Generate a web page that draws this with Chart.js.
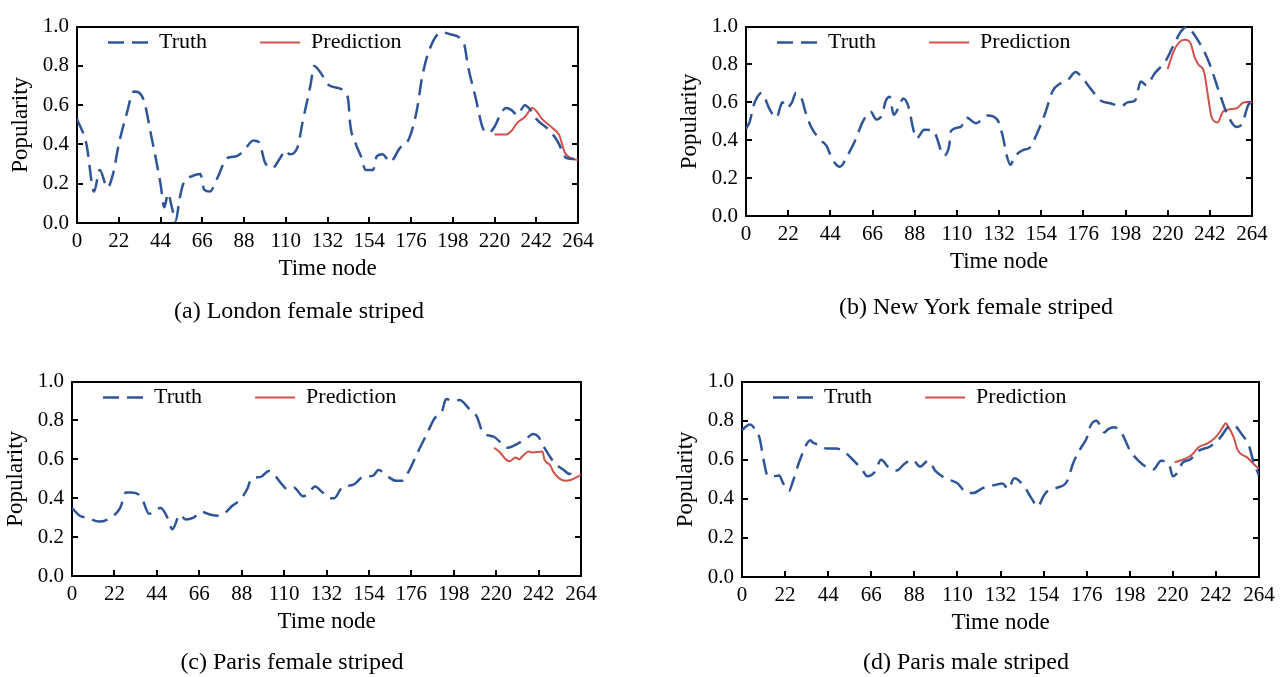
<!DOCTYPE html>
<html>
<head>
<meta charset="utf-8">
<script src="https://cdn.jsdelivr.net/npm/chart.js@4.4.1/dist/chart.umd.min.js"></script>
<style>
  html, body { margin: 0; padding: 0; background: #fff; }
  body { width: 1287px; height: 677px; position: relative; overflow: hidden; font-family: "Liberation Serif", serif; }
  canvas { position: absolute; }
  .caption { position: absolute; font-size: 24px; line-height: 1; color: #000; white-space: nowrap; transform: translateX(-50%); }
</style>
</head>
<body>
<canvas id="londonChart" width="640" height="300" style="left:0px;top:0px"></canvas>
<canvas id="newYorkChart" width="644" height="300" style="left:643px;top:0px"></canvas>
<canvas id="parisFemaleChart" width="640" height="300" style="left:0px;top:355px"></canvas>
<canvas id="parisMaleChart" width="644" height="300" style="left:643px;top:355px"></canvas>
<div class="caption" style="left:299px;top:298px">(a) London female striped</div>
<div class="caption" style="left:976px;top:294px">(b) New York female striped</div>
<div class="caption" style="left:292px;top:649px">(c) Paris female striped</div>
<div class="caption" style="left:966px;top:649px">(d) Paris male striped</div>
<script>
// ---- data (time node, popularity) ----
const londonNodes = [0, 5, 9, 12, 16, 19, 22, 26, 30, 35, 39, 44, 46, 48, 50, 52, 54, 56, 61, 65, 67, 70, 74, 79, 84, 88, 93, 96, 99, 103, 107, 110, 112, 116, 119, 123, 125, 128, 133, 141, 143, 144, 147, 150, 152, 156, 158, 161, 165, 170, 175, 179, 182, 186, 192, 197, 204, 206, 210, 214, 217, 220, 223, 226, 229, 232, 236, 239, 242, 248, 253, 258, 262];
const londonTruth = [0.53, 0.40, 0.16, 0.27, 0.18, 0.25, 0.40, 0.55, 0.67, 0.63, 0.45, 0.20, 0.08, 0.15, 0.08, 0.01, 0.12, 0.20, 0.24, 0.25, 0.17, 0.16, 0.23, 0.33, 0.34, 0.37, 0.42, 0.41, 0.31, 0.28, 0.33, 0.37, 0.35, 0.38, 0.52, 0.70, 0.80, 0.77, 0.70, 0.67, 0.62, 0.50, 0.40, 0.33, 0.27, 0.27, 0.34, 0.35, 0.31, 0.38, 0.43, 0.57, 0.75, 0.89, 0.97, 0.96, 0.91, 0.80, 0.64, 0.48, 0.46, 0.49, 0.55, 0.585, 0.575, 0.55, 0.60, 0.575, 0.53, 0.48, 0.42, 0.33, 0.325];
const londonPredNodes = [220, 226, 229, 232, 236, 240, 242, 245, 251, 254, 257, 262, 264];
const londonPred = [0.45, 0.45, 0.47, 0.51, 0.54, 0.585, 0.57, 0.53, 0.48, 0.45, 0.36, 0.325, 0.32];

const newYorkNodes = [0, 2, 4, 6, 8, 10, 12, 16, 18, 19, 21, 24, 26, 29, 31, 34, 39, 42, 45, 49, 53, 57, 61, 65, 68, 71, 73, 75, 77, 80, 82, 85, 87, 89, 93, 98, 100, 103, 106, 107, 112, 115, 120, 126, 131, 134, 136, 138, 140, 145, 148, 152, 156, 160, 164, 168, 172, 175, 180, 185, 190, 196, 199, 203, 206, 209, 213, 219, 223, 227, 230, 233, 239, 242, 247, 251, 256, 259, 262, 264];
const newYorkTruth = [0.46, 0.50, 0.585, 0.63, 0.65, 0.62, 0.57, 0.52, 0.58, 0.60, 0.57, 0.60, 0.65, 0.62, 0.55, 0.47, 0.40, 0.37, 0.30, 0.26, 0.32, 0.40, 0.50, 0.55, 0.51, 0.535, 0.61, 0.63, 0.535, 0.58, 0.62, 0.57, 0.47, 0.41, 0.455, 0.45, 0.40, 0.32, 0.37, 0.45, 0.47, 0.52, 0.49, 0.53, 0.51, 0.42, 0.32, 0.27, 0.31, 0.35, 0.36, 0.44, 0.54, 0.66, 0.70, 0.72, 0.76, 0.735, 0.67, 0.61, 0.595, 0.58, 0.60, 0.61, 0.71, 0.69, 0.75, 0.82, 0.90, 0.975, 1.0, 0.97, 0.87, 0.80, 0.65, 0.54, 0.47, 0.49, 0.585, 0.60];
const newYorkPredNodes = [220, 223, 226, 229, 232, 234, 236, 239, 241, 243, 246, 249, 256, 260, 264];
const newYorkPred = [0.776, 0.867, 0.917, 0.93, 0.91, 0.84, 0.80, 0.76, 0.635, 0.52, 0.494, 0.552, 0.569, 0.60, 0.60];

const parisFemaleNodes = [0, 4, 8, 14, 20, 25, 28, 31, 36, 40, 43, 46, 50, 52, 56, 59, 63, 67, 72, 76, 80, 83, 87, 91, 93, 98, 102, 105, 109, 112, 115, 120, 123, 126, 130, 134, 136, 140, 146, 151, 156, 159, 164, 168, 171, 175, 179, 184, 188, 192, 194, 198, 201, 206, 210, 213, 219, 224, 226, 231, 236, 239, 242, 245, 250, 255, 258, 261];
const parisFemaleTruth = [0.35, 0.31, 0.30, 0.28, 0.30, 0.35, 0.43, 0.43, 0.405, 0.32, 0.34, 0.35, 0.29, 0.24, 0.315, 0.29, 0.30, 0.33, 0.315, 0.31, 0.33, 0.36, 0.39, 0.45, 0.50, 0.51, 0.54, 0.52, 0.47, 0.445, 0.455, 0.41, 0.43, 0.46, 0.43, 0.40, 0.40, 0.455, 0.47, 0.51, 0.515, 0.545, 0.51, 0.49, 0.49, 0.545, 0.63, 0.73, 0.81, 0.85, 0.91, 0.90, 0.905, 0.86, 0.82, 0.74, 0.715, 0.67, 0.66, 0.68, 0.71, 0.73, 0.715, 0.66, 0.585, 0.545, 0.525, 0.55];
const parisFemalePredNodes = [219, 222, 225, 227, 230, 232, 234, 237, 239, 244, 245, 248, 250, 256, 259, 262, 264];
const parisFemalePred = [0.66, 0.635, 0.60, 0.59, 0.61, 0.60, 0.62, 0.64, 0.635, 0.64, 0.60, 0.57, 0.53, 0.49, 0.495, 0.51, 0.52];

const parisMaleNodes = [0, 2, 4, 6, 9, 11, 13, 16, 19, 21, 24, 26, 30, 35, 36, 41, 43, 48, 53, 57, 61, 64, 68, 71, 75, 79, 83, 87, 91, 95, 99, 104, 110, 115, 118, 123, 127, 133, 136, 139, 144, 148, 151, 154, 156, 161, 166, 169, 173, 176, 178, 181, 185, 187, 190, 194, 198, 202, 207, 210, 214, 218, 220, 222, 225, 229, 233, 239, 244, 248, 251, 255, 259, 261, 264];
const parisMaleTruth = [0.75, 0.77, 0.78, 0.765, 0.71, 0.60, 0.52, 0.515, 0.52, 0.48, 0.44, 0.49, 0.61, 0.70, 0.69, 0.67, 0.657, 0.657, 0.635, 0.595, 0.555, 0.515, 0.54, 0.60, 0.56, 0.545, 0.58, 0.60, 0.565, 0.595, 0.54, 0.505, 0.48, 0.43, 0.43, 0.455, 0.465, 0.478, 0.45, 0.505, 0.465, 0.40, 0.36, 0.415, 0.44, 0.457, 0.49, 0.58, 0.66, 0.71, 0.775, 0.80, 0.74, 0.757, 0.766, 0.733, 0.65, 0.60, 0.56, 0.55, 0.595, 0.58, 0.515, 0.53, 0.585, 0.603, 0.645, 0.668, 0.71, 0.765, 0.777, 0.733, 0.668, 0.595, 0.52];
const parisMalePredNodes = [221, 227, 230, 233, 238, 242, 245, 247, 248, 251, 253, 258, 263, 264];
const parisMalePred = [0.587, 0.608, 0.628, 0.663, 0.685, 0.717, 0.758, 0.787, 0.774, 0.717, 0.652, 0.611, 0.562, 0.555];

const seriesNames = ['Truth', 'Prediction'];
const truthColor = '#2f5597';
const predColor = '#d1514b';

Chart.defaults.font.family = '"Liberation Serif", serif';
Chart.defaults.color = '#000';

function toPoints(xs, ys) {
  return xs.map((x, i) => ({ x: x, y: ys[i] }));
}

// legend samples take the dataset's own line style (width, colour, dash)
function lineLegendLabels(chart) {
  const items = Chart.defaults.plugins.legend.labels.generateLabels(chart);
  items.forEach(item => {
    const ds = chart.data.datasets[item.datasetIndex];
    item.strokeStyle = ds.borderColor;
    item.lineWidth = ds.borderWidth;
    item.lineDash = ds.borderDash || [];
  });
  return items;
}

// canvas box [left, top, w, h] and plot area [left, top, right, bottom] in page px
function makePanel(id, box, area, nodes, truth, predNodes, pred) {
  const yAxisW = 70, xAxisH = 60;
  const legendPad = 53;
  const pad = {
    left: area[0] - box[0] - yAxisW,
    top: area[1] - box[1],
    right: box[0] + box[2] - area[2],
    bottom: box[1] + box[3] - area[3] - xAxisH
  };
  const tickGrid = { drawOnChartArea: false, drawTicks: true, tickLength: -6, color: '#000', lineWidth: 2 };
  const border = { display: true, color: '#000', width: 2 };

  new Chart(document.getElementById(id), {
    type: 'line',
    data: {
      datasets: [
        {
          label: seriesNames[0],
          data: toPoints(nodes, truth),
          borderColor: truthColor,
          backgroundColor: truthColor,
          borderWidth: 2.5,
          borderDash: [16, 8],
          pointRadius: 0,
          cubicInterpolationMode: 'monotone'
        },
        {
          label: seriesNames[1],
          data: toPoints(predNodes, pred),
          borderColor: predColor,
          backgroundColor: predColor,
          borderWidth: 2,
          pointRadius: 0,
          cubicInterpolationMode: 'monotone'
        }
      ]
    },
    options: {
      responsive: false,
      animation: false,
      devicePixelRatio: 1,
      layout: { padding: pad },
      scales: {
        x: {
          type: 'linear', min: 0, max: 264,
          ticks: { stepSize: 22, padding: 12, maxRotation: 0, font: { size: 21 } },
          grid: tickGrid, border: border,
          title: { display: true, text: 'Time node', font: { size: 23 }, padding: 0 },
          afterFit: s => { s.height = xAxisH; }
        },
        x2: {
          type: 'linear', position: 'top', min: 0, max: 264,
          ticks: { display: false },
          grid: { drawOnChartArea: false, drawTicks: false },
          border: border,
          afterFit: s => { s.height = 0; }
        },
        y: {
          min: 0, max: 1,
          ticks: { stepSize: 0.2, padding: 14, font: { size: 21 }, callback: v => v.toFixed(1) },
          grid: tickGrid, border: border,
          title: { display: true, text: 'Popularity', font: { size: 23 }, padding: 0 },
          afterFit: s => { s.width = yAxisW; }
        },
        y2: {
          position: 'right', min: 0, max: 1,
          ticks: { display: false, stepSize: 0.2 },
          grid: tickGrid, border: border,
          afterFit: s => { s.width = 0; }
        }
      },
      plugins: {
        legend: {
          position: 'top',
          align: 'start',
          maxHeight: 0.001,
          labels: {
            usePointStyle: true,
            pointStyle: 'line',
            pointStyleWidth: 40,
            boxHeight: 22,
            padding: legendPad,
            color: '#000',
            font: { size: 22 },
            generateLabels: lineLegendLabels
          }
        },
        tooltip: { enabled: false }
      }
    },
    plugins: [{
      // move the legend inside the plot, where the figure has it
      id: 'legendInside',
      afterLayout(chart) {
        const ca = chart.chartArea;
        const lg = chart.legend;
        lg.left = ca.left + 31 - legendPad;
        lg.top = ca.top + 16 - legendPad - 11;
        lg.right = ca.right;
        lg.bottom = ca.bottom;
      }
    }]
  });
}

makePanel('londonChart', [0, 0, 640, 300], [77, 24, 578, 223], londonNodes, londonTruth, londonPredNodes, londonPred);
makePanel('newYorkChart', [643, 0, 644, 300], [746, 15, 1252, 216], newYorkNodes, newYorkTruth, newYorkPredNodes, newYorkPred);
makePanel('parisFemaleChart', [0, 355, 640, 300], [72, 372, 581, 576], parisFemaleNodes, parisFemaleTruth, parisFemalePredNodes, parisFemalePred);
makePanel('parisMaleChart', [643, 355, 644, 300], [742, 372, 1259, 577], parisMaleNodes, parisMaleTruth, parisMalePredNodes, parisMalePred);
</script>
</body>
</html>
